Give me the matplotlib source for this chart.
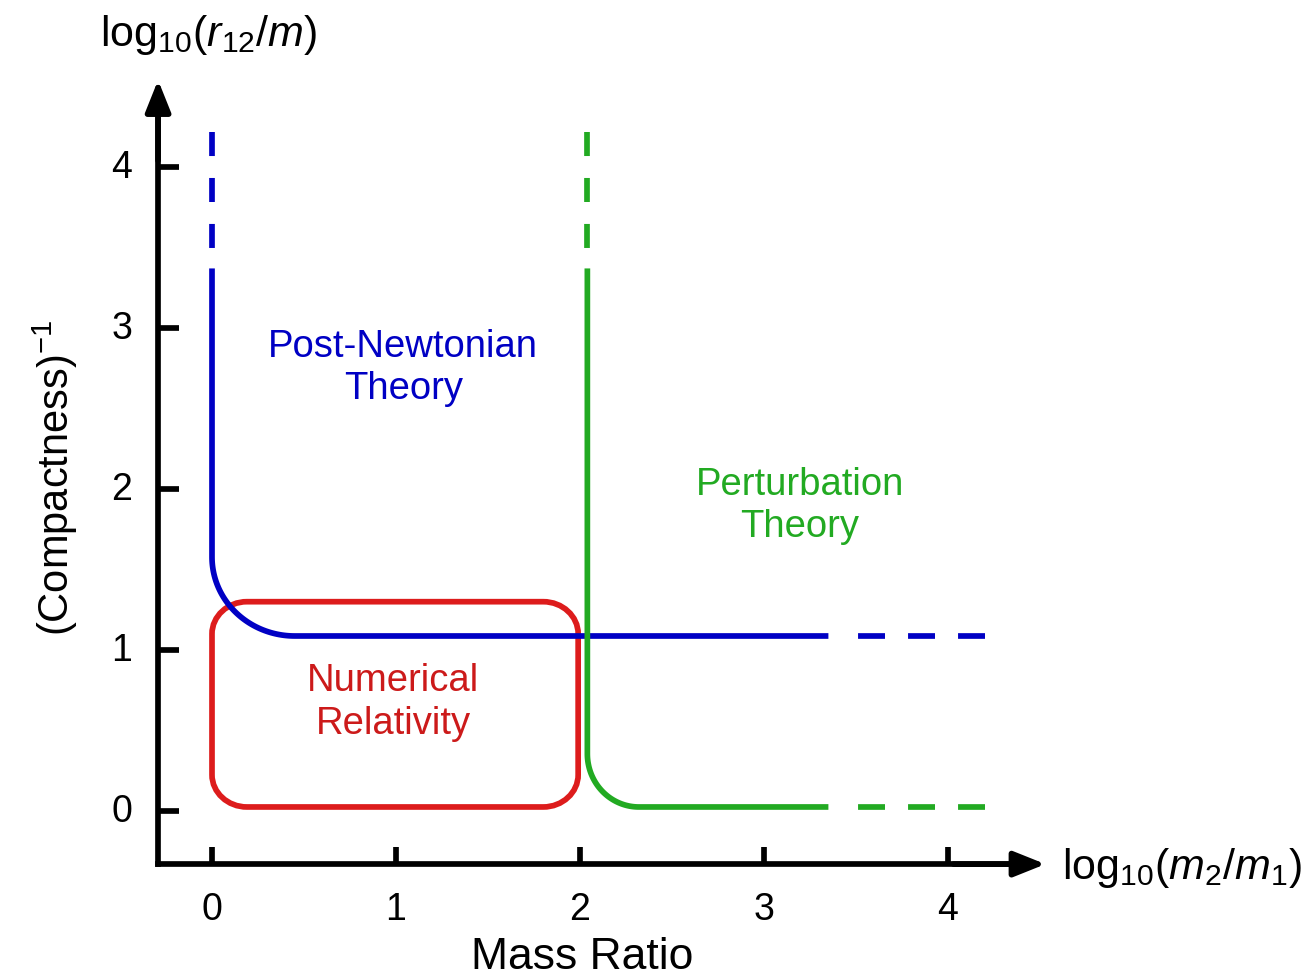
import numpy as np
import matplotlib
matplotlib.use("Agg")
import matplotlib.pyplot as plt
from matplotlib.path import Path
from matplotlib.patches import PathPatch

plt.rcParams['font.family'] = ['Liberation Sans', 'DejaVu Sans']
plt.rcParams['mathtext.fontset'] = 'custom'
plt.rcParams['mathtext.rm'] = 'Liberation Sans'
plt.rcParams['mathtext.it'] = 'Liberation Sans:italic'
plt.rcParams['lines.scale_dashes'] = False

# ---- data ----
x_ticks = [0, 1, 2, 3, 4]
y_ticks = [0, 1, 2, 3, 4]
x_tick_labels = ["0", "1", "2", "3", "4"]
y_tick_labels = ["0", "1", "2", "3", "4"]

# Post-Newtonian boundary (blue)
pn_x = 0.0          # vertical branch position
pn_y = 1.087        # horizontal branch level
pn_corner = (0.45, 0.49)
pn_solid_top = 3.37
pn_dash_bottom = 3.50
pn_dash_top = 4.22
pn_solid_right = 3.35
pn_dash_left = 3.51
pn_dash_right = 4.20

# Perturbation theory boundary (green)
pt_x = 2.04
pt_y = 0.025
pt_corner = (0.28, 0.33)
pt_solid_top = 3.37
pt_dash_bottom = 3.50
pt_dash_top = 4.22
pt_solid_right = 3.35
pt_dash_left = 3.51
pt_dash_right = 4.20

# Numerical relativity box (red)
nr_left, nr_right = 0.0, 1.99
nr_bottom, nr_top = 0.025, 1.30
nr_corner = (0.19, 0.20)

# axes frame
x_axis_y = -0.33
y_axis_x = -0.293
x_arrow_end = 4.53
y_arrow_end = 4.54

BLUE = '#0000c4'
GREEN = '#22aa22'
RED = '#dd1c1c'

fig = plt.figure(figsize=(13.10, 9.79), dpi=100)
ax = fig.add_axes([0, 0, 1, 1])
ax.set_xlim(-212 / 184, (1310 - 212) / 184)
ax.set_ylim((812 - 979) / 161, 812 / 161)
ax.axis('off')

LW = 4.1


def corner_curve(xv, yh, rx, ry, y_top, x_right, n=60):
    t = np.linspace(np.pi, 1.5 * np.pi, n)
    cx, cy = xv + rx, yh + ry
    ex = cx + rx * np.cos(t)
    ey = cy + ry * np.sin(t)
    xs = np.concatenate([[xv], ex, [x_right]])
    ys = np.concatenate([[y_top], ey, [yh]])
    return xs, ys


def boundary(xv, yh, corner, s_top, d_bot, d_top, s_right, d_left, d_right, color):
    xs, ys = corner_curve(xv, yh, corner[0], corner[1], s_top, s_right)
    ax.plot(xs, ys, color=color, lw=LW, solid_capstyle='butt', solid_joinstyle='round')
    # dashed extensions, drawn from the far end so they start with a dash
    ax.plot([xv, xv], [d_top, d_bot], color=color, lw=LW,
            dashes=(17.3, 15.8), dash_capstyle='butt')
    ax.plot([d_right, d_left], [yh, yh], color=color, lw=LW,
            dashes=(19.4, 16.6), dash_capstyle='butt')


boundary(pn_x, pn_y, pn_corner, pn_solid_top, pn_dash_bottom, pn_dash_top,
         pn_solid_right, pn_dash_left, pn_dash_right, BLUE)
boundary(pt_x, pt_y, pt_corner, pt_solid_top, pt_dash_bottom, pt_dash_top,
         pt_solid_right, pt_dash_left, pt_dash_right, GREEN)

# rounded rectangle
rx, ry = nr_corner
k = 0.5523
verts = [
    (nr_left + rx, nr_bottom),
    (nr_right - rx, nr_bottom),
    (nr_right - rx + k * rx, nr_bottom), (nr_right, nr_bottom + ry - k * ry), (nr_right, nr_bottom + ry),
    (nr_right, nr_top - ry),
    (nr_right, nr_top - ry + k * ry), (nr_right - rx + k * rx, nr_top), (nr_right - rx, nr_top),
    (nr_left + rx, nr_top),
    (nr_left + rx - k * rx, nr_top), (nr_left, nr_top - ry + k * ry), (nr_left, nr_top - ry),
    (nr_left, nr_bottom + ry),
    (nr_left, nr_bottom + ry - k * ry), (nr_left + rx - k * rx, nr_bottom), (nr_left + rx, nr_bottom),
    (nr_left + rx, nr_bottom),
]
codes = ([Path.MOVETO, Path.LINETO] + [Path.CURVE4] * 3 + [Path.LINETO] + [Path.CURVE4] * 3
         + [Path.LINETO] + [Path.CURVE4] * 3 + [Path.LINETO] + [Path.CURVE4] * 3 + [Path.CLOSEPOLY])
ax.add_patch(PathPatch(Path(verts, codes), facecolor='none', edgecolor=RED, lw=LW, zorder=1))

# axes with arrows
ax.plot([y_axis_x, x_arrow_end - 0.1], [x_axis_y, x_axis_y], color='black', lw=LW,
        solid_capstyle='projecting')
ax.plot([y_axis_x, y_axis_x], [x_axis_y, y_arrow_end - 0.1], color='black', lw=LW,
        solid_capstyle='projecting')
ax.annotate('', xy=(x_arrow_end, x_axis_y), xytext=(x_arrow_end - 0.5, x_axis_y),
            arrowprops=dict(arrowstyle='-|>,head_length=0.95,head_width=0.38', lw=LW,
                            color='black', mutation_scale=20, shrinkA=0, shrinkB=0))
ax.annotate('', xy=(y_axis_x, y_arrow_end), xytext=(y_axis_x, y_arrow_end - 0.5),
            arrowprops=dict(arrowstyle='-|>,head_length=0.95,head_width=0.38', lw=LW,
                            color='black', mutation_scale=20, shrinkA=0, shrinkB=0))

# ticks
for xt, lab in zip(x_ticks, x_tick_labels):
    ax.plot([xt, xt], [x_axis_y, x_axis_y + 17 / 161], color='black', lw=LW, solid_capstyle='butt')
    ax.text(xt, x_axis_y - 0.28, lab, ha='center', va='center', fontsize=27)
for yt, lab in zip(y_ticks, y_tick_labels):
    ax.plot([y_axis_x, y_axis_x + 21 / 184], [yt, yt], color='black', lw=LW, solid_capstyle='butt')
    ax.text(y_axis_x - 0.14, yt, lab, ha='right', va='center', fontsize=27)

# axis labels
ax.text((582 - 212) / 184, (812 - 958) / 161, 'Mass Ratio', ha='center', va='center', fontsize=32)
ax.text((55 - 212) / 184, (812 - 478) / 161, r'(Compactness)$^{-1}$', ha='center', va='center',
        rotation=90, fontsize=30)
ax.text((100 - 212) / 184, (812 - 35) / 161, r'log$_{10}$($r_{12}$/$m$)', ha='left', va='center',
        fontsize=31)
ax.text((1062 - 212) / 184, (812 - 868) / 161, r'log$_{10}$($m_{2}$/$m_{1}$)', ha='left', va='center',
        fontsize=31)

# region labels
ax.text(1.04, 2.76, 'Post-Newtonian\nTheory', color=BLUE, ha='center', va='center',
        fontsize=27.5, linespacing=1.22)
ax.text(3.196, 1.90, 'Perturbation\nTheory', color=GREEN, ha='center', va='center',
        fontsize=27.5, linespacing=1.22)
ax.text(0.986, 0.68, 'Numerical\nRelativity', color='#cc1a1a', ha='center', va='center',
        fontsize=27.5, linespacing=1.22)

fig.savefig('out.png', dpi=100)
